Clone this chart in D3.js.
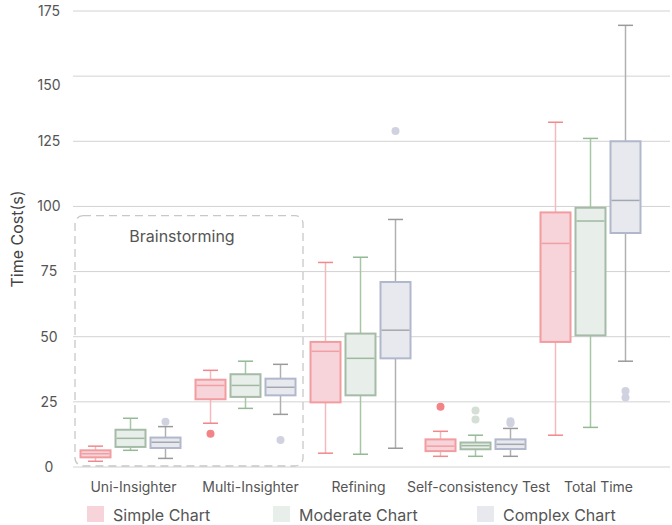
<!DOCTYPE html>
<html><head><meta charset="utf-8">
<script src="https://cdn.jsdelivr.net/npm/d3@7"></script>
<style>
html,body{margin:0;padding:0;background:#fff;}
svg{display:block;font-family:Inter,"Noto Sans",sans-serif;}
</style></head>
<body><svg id="chart" width="672" height="525"></svg>
<script>
// ---- data ----
const categories = ["Uni-Insighter", "Multi-Insighter", "Refining", "Self-consistency Test", "Total Time"];
const seriesNames = ["Simple Chart", "Moderate Chart", "Complex Chart"];
const yTicks = [0, 25, 50, 75, 100, 125, 150, 175];
// [lower whisker, Q1, median, Q3, upper whisker] per category
const simpleStats = [
  [2.2, 3.7, 5.1, 6.4, 8.0],
  [16.8, 26.0, 31.3, 33.5, 37.1],
  [5.3, 24.8, 44.4, 48.0, 78.5],
  [4.1, 6.1, 8.0, 10.6, 13.7],
  [12.2, 48.0, 85.8, 97.7, 132.3]
];
const moderateStats = [
  [6.4, 7.7, 11.0, 14.3, 18.7],
  [22.5, 26.9, 31.3, 35.6, 40.6],
  [4.9, 27.5, 41.7, 51.2, 80.5],
  [4.1, 6.8, 8.2, 9.4, 12.2],
  [15.2, 50.5, 94.4, 99.5, 126.1]
];
const complexStats = [
  [3.3, 7.3, 9.5, 11.3, 15.5],
  [20.2, 27.5, 30.6, 33.9, 39.4],
  [7.2, 41.7, 52.5, 71.0, 95.0],
  [4.1, 6.9, 8.7, 10.6, 14.8],
  [40.6, 89.8, 102.3, 125.0, 169.5]
];
const simpleOutliers = [[], [12.8], [], [23.1], []];
const moderateOutliers = [[], [], [], [18.2, 21.7], []];
const complexOutliers = [[17.4], [10.4], [128.9], [16.8, 17.6], [26.7, 29.2]];
const groupLabel = "Brainstorming";
const groupSpan = [0, 1]; // categories covered by the dashed group box

// ---- styles ----
const styles = [
  {fill:"#f7d4d9", stroke:"#f29ca0", whisker:"#f5b9bc", cap:"#f0888c", median:"#f0a0a5", dot:"#f28386"},
  {fill:"#e8eee9", stroke:"#a5bba7", whisker:"#a6c6a6", cap:"#93b995", median:"#9fb9a1", dot:"#d5dfd5"},
  {fill:"#e8e9ef", stroke:"#b1b8cb", whisker:"#b0b0b0", cap:"#9a9a9a", median:"#a3a8b0", dot:"#d0d3df"}
];
const statsAll = [simpleStats, moderateStats, complexStats];
const outAll = [simpleOutliers, moderateOutliers, complexOutliers];

const svg = d3.select("#chart");
const left = 73, right = 670;
const x = d3.scaleBand().domain(categories).range([73, 648]).padding(0);
const y = d3.scaleLinear().domain([0, 175]).range([467, 11]);
const sub = d3.scalePoint().domain(seriesNames).range([-35, 35]);
const boxW = 30, capW = 15;

// grid
svg.append("g").selectAll("line").data(yTicks).join("line")
  .attr("x1", left).attr("x2", right)
  .attr("y1", d => y(d)).attr("y2", d => y(d))
  .attr("stroke", "#d2d2d2").attr("stroke-width", 1);

// y tick labels
const tickDy = {150: 9};
svg.append("g").selectAll("text").data(yTicks).join("text")
  .attr("x", 49).attr("y", d => y(d) + (tickDy[d] || 0)).attr("dy", "0.35em")
  .attr("text-anchor", "middle").attr("font-size", 14).attr("fill", "#555")
  .text(d => d);

// y title
svg.append("text").attr("transform", `translate(23,${(y(0)+y(175))/2}) rotate(-90)`)
  .attr("text-anchor", "middle").attr("font-size", 16).attr("fill", "#444")
  .text("Time Cost(s)");

// brainstorming dashed box
const bx0 = x(categories[groupSpan[0]]) + 2, bx1 = x(categories[groupSpan[1]]) + x.bandwidth();
svg.append("rect").attr("x", bx0).attr("y", y(96.5)).attr("width", bx1 - bx0)
  .attr("height", y(0) - y(96.5) - 1).attr("rx", 8)
  .attr("fill", "none").attr("stroke", "#c8c8c8").attr("stroke-width", 1.3)
  .attr("stroke-dasharray", "8,5");
svg.append("text").attr("x", (bx0 + bx1) / 2 - 7).attr("y", y(86.5))
  .attr("text-anchor", "middle").attr("font-size", 16).attr("fill", "#555").text(groupLabel);

// boxes
seriesNames.forEach((s, si) => {
  const st = styles[si];
  const g = svg.append("g");
  categories.forEach((c, ci) => {
    const [lo, q1, med, q3, hi] = statsAll[si][ci];
    const cx = x(c) + x.bandwidth() / 2 + sub(s);
    // whiskers
    g.append("line").attr("x1", cx).attr("x2", cx).attr("y1", y(q3)).attr("y2", y(hi))
      .attr("stroke", st.whisker).attr("stroke-width", 1.5);
    g.append("line").attr("x1", cx).attr("x2", cx).attr("y1", y(q1)).attr("y2", y(lo))
      .attr("stroke", st.whisker).attr("stroke-width", 1.5);
    [lo, hi].forEach(v => g.append("line")
      .attr("x1", cx - capW/2).attr("x2", cx + capW/2).attr("y1", y(v)).attr("y2", y(v))
      .attr("stroke", st.cap).attr("stroke-width", 1.5));
    // box
    g.append("rect").attr("x", cx - boxW/2).attr("y", y(q3)).attr("width", boxW)
      .attr("height", y(q1) - y(q3)).attr("fill", st.fill)
      .attr("stroke", st.stroke).attr("stroke-width", 2);
    g.append("line").attr("x1", cx - boxW/2 + 1).attr("x2", cx + boxW/2 - 1)
      .attr("y1", y(med)).attr("y2", y(med)).attr("stroke", st.median).attr("stroke-width", 1.5);
    // outliers
    outAll[si][ci].forEach(v => g.append("circle").attr("cx", cx).attr("cy", y(v)).attr("r", 4)
      .attr("fill", st.dot));
  });
});

// x labels
const labelDx = [3, 5, -2, 3, 8];
svg.append("g").selectAll("text").data(categories).join("text")
  .attr("x", (d, i) => x(d) + x.bandwidth() / 2 + labelDx[i]).attr("y", 492)
  .attr("text-anchor", "middle").attr("font-size", 14).attr("fill", "#555").text(d => d);

// legend
const legX = [87, 273, 477];
const leg = svg.append("g");
seriesNames.forEach((s, i) => {
  leg.append("rect").attr("x", legX[i]).attr("y", 506).attr("width", 17).attr("height", 16)
    .attr("fill", styles[i].fill);
  leg.append("text").attr("x", legX[i] + 26).attr("y", 521).attr("font-size", 16)
    .attr("fill", "#555").text(s);
});
</script></body></html>
